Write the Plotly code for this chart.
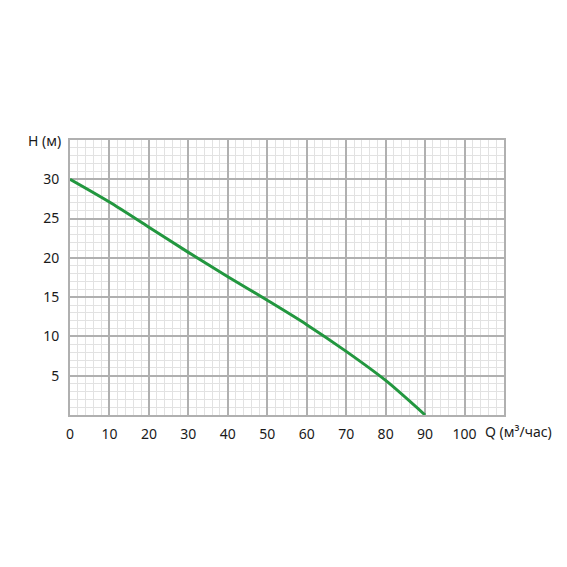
"""Напорная характеристика насоса H(Q)."""

import plotly.graph_objects as go

# ── Data ──────────────────────────────────────────────────────────────────────
q_values = [0, 10, 20, 30, 40, 50, 60, 70, 80, 90]
h_values = [30, 27.1, 23.9, 20.7, 17.6, 14.6, 11.5, 8.1, 4.4, 0]

x_ticks = [0, 10, 20, 30, 40, 50, 60, 70, 80, 90, 100]
y_ticks = [5, 10, 15, 20, 25, 30]

# ── Style ─────────────────────────────────────────────────────────────────────
_C_LINE = "#22973F"
_C_MAJOR = "#B0B0B0"
_C_MINOR = "#E2E2E2"
_FONT = dict(family="Noto Sans, Arial, sans-serif", size=14, color="#1A1A1A")

fig = go.Figure(go.Scatter(
    x=q_values,
    y=h_values,
    mode="lines",
    line=dict(color=_C_LINE, width=3, shape="spline", smoothing=0.8),
    hovertemplate="Q: %{x}<br>H: %{y}<extra></extra>",
))

fig.update_xaxes(
    range=[0, 110],
    tickvals=x_ticks,
    ticks="",
    showgrid=True,
    gridcolor=_C_MAJOR,
    gridwidth=1.5,
    minor=dict(dtick=2, showgrid=True, gridcolor=_C_MINOR, gridwidth=1),
    showline=True,
    linecolor=_C_MAJOR,
    linewidth=2,
    mirror=True,
    zeroline=False,
    ticklabelstandoff=5,
)
fig.update_yaxes(
    range=[0, 35],
    tickvals=y_ticks,
    ticks="",
    showgrid=True,
    gridcolor=_C_MAJOR,
    gridwidth=1.5,
    minor=dict(dtick=1, showgrid=True, gridcolor=_C_MINOR, gridwidth=1),
    showline=True,
    linecolor=_C_MAJOR,
    linewidth=2,
    mirror=True,
    zeroline=False,
    ticklabelstandoff=6,
)

fig.add_annotation(text="H (м)", xref="paper", yref="paper", x=0, y=1,
                   xanchor="right", yanchor="middle", xshift=-7,
                   showarrow=False, font=_FONT)
fig.add_annotation(text="Q (м³/час)", xref="paper", yref="paper", x=1, y=0,
                   xanchor="right", yanchor="top", xshift=50, yshift=-5,
                   showarrow=False, font=_FONT)

fig.update_layout(
    width=567,
    height=567,
    template="plotly_white",
    plot_bgcolor="white",
    paper_bgcolor="white",
    font=_FONT,
    showlegend=False,
    margin=dict(l=62, r=71, t=132, b=160),
)

fig.write_html("out.html")
